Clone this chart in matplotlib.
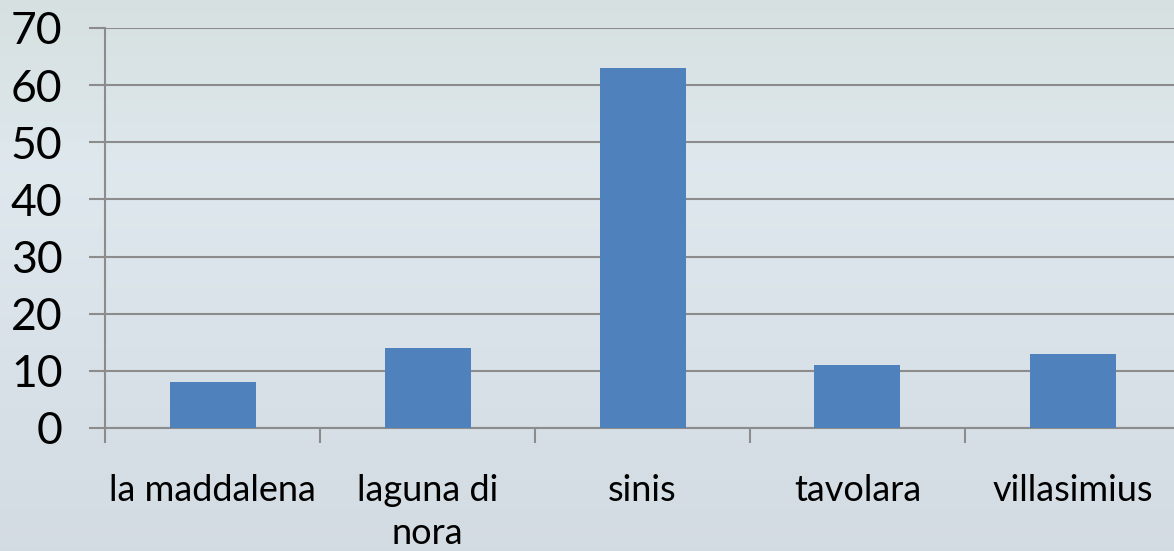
import matplotlib
matplotlib.use("Agg")
import matplotlib.pyplot as plt
import numpy as np

categories = ["la maddalena", "laguna di\nnora", "sinis", "tavolara", "villasimius"]
values = [8, 14, 63, 11, 13]
yticks = [0, 10, 20, 30, 40, 50, 60, 70]

W, H = 1174, 551
fig = plt.figure(figsize=(W / 100, H / 100), dpi=100)
fig.patch.set_facecolor("#dce5eb")

# subtle background gradient (figure-level decoration)
grad = np.linspace(0, 1, 256).reshape(-1, 1)
top = np.array([0.84, 0.88, 0.88])
mid = np.array([0.87, 0.91, 0.93])
bot = np.array([0.83, 0.86, 0.89])
cols = np.where(grad[..., None] < 0.3,
                top + (mid - top) * (grad[..., None] / 0.3),
                mid + (bot - mid) * ((grad[..., None] - 0.3) / 0.7))
bg = fig.add_axes([0, 0, 1, 1], zorder=-10)
bg.imshow(cols, aspect="auto", extent=[0, 1, 0, 1])
bg.axis("off")

left = 105 / W
bottom = 1 - 428 / H
top_y = 1 - 28 / H
width = 5 * 215 / W
ax = fig.add_axes([left, bottom, width, top_y - bottom])
ax.patch.set_alpha(0)

x = np.arange(len(categories))
ax.bar(x, values, width=0.4, color="#4f81bd", zorder=3)

ax.set_xlim(-0.5, len(categories) - 0.5)
ax.set_ylim(0, 70)
ax.set_yticks(yticks)
ax.yaxis.grid(True, color="#8c8c8c", linewidth=1.5, zorder=0)
ax.set_axisbelow(True)

for s in ["top", "right"]:
    ax.spines[s].set_visible(False)
ax.spines["left"].set_color("#8c8c8c")
ax.spines["left"].set_linewidth(1.5)
ax.spines["bottom"].set_color("#8c8c8c")
ax.spines["bottom"].set_linewidth(1.5)

font = "Lato"
ax.tick_params(axis="y", length=11.5, width=1.5, color="#8c8c8c", pad=19,
               labelsize=32, labelcolor="black")
for lbl in ax.get_yticklabels():
    lbl.set_fontfamily(font)

ax.set_xticks(np.arange(-0.5, len(categories), 1.0))
ax.set_xticklabels([])
ax.tick_params(axis="x", which="major", length=11, width=1.5, color="#8c8c8c")
ax.set_xticks(x, minor=True)
ax.set_xticklabels(categories, minor=True, fontsize=26, family=font, linespacing=1.38)
ax.tick_params(axis="x", which="minor", length=0, pad=33)

fig.savefig("out.png", dpi=100)
